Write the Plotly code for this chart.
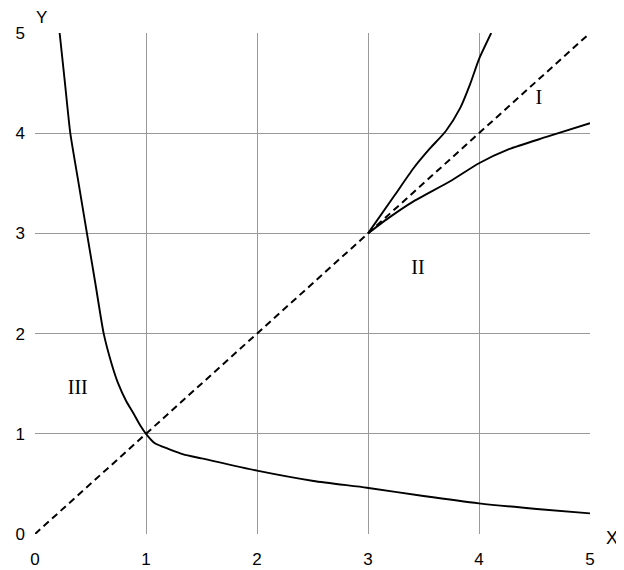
import plotly.graph_objects as go

# Diagonal reference line y = x
diag_x = [0, 5]
diag_y = [0, 5]

# Curve III (decreasing, through (1,1))
c3_x = [0.222, 0.27, 0.318, 0.393, 0.468, 0.544, 0.619, 0.69, 0.75, 0.82, 0.889, 0.95, 1.0,
        1.08, 1.2, 1.336, 1.5, 2.0, 2.51, 2.99, 3.5, 4.0, 4.52, 5.0]
c3_y = [5.0, 4.5, 4.0, 3.5, 3.0, 2.5, 2.0, 1.7, 1.5, 1.33, 1.2, 1.08, 1.0,
        0.905, 0.85, 0.795, 0.755, 0.632, 0.529, 0.462, 0.379, 0.306, 0.25, 0.206]

# Upper branch from (3,3)
up_x = [3.0, 3.24, 3.41, 3.56, 3.70, 3.83, 3.92, 4.0, 4.11]
up_y = [3.0, 3.38, 3.65, 3.85, 4.02, 4.25, 4.49, 4.74, 5.0]

# Lower branch from (3,3)
lo_x = [3.0, 3.18, 3.41, 3.74, 4.0, 4.27, 4.60, 5.0]
lo_y = [3.0, 3.15, 3.32, 3.52, 3.70, 3.84, 3.96, 4.10]

tick_vals = [0, 1, 2, 3, 4, 5]
tick_text = ["0", "1", "2", "3", "4", "5"]

region_labels = ["I", "II", "III"]
region_x = [4.54, 3.45, 0.385]
region_y = [4.34, 2.64, 1.45]

W, H = 616, 562
L, R, T, B = 27, 34, 25, 36
pw = W - L - R
ph = H - T - B

fig = go.Figure()
fig.add_trace(go.Scatter(x=diag_x, y=diag_y, mode="lines",
                         line=dict(color="black", width=2, dash="7px,4.5px")))
for xs, ys in [(c3_x, c3_y), (up_x, up_y), (lo_x, lo_y)]:
    fig.add_trace(go.Scatter(x=xs, y=ys, mode="lines",
                             line=dict(color="black", width=1.9, shape="spline", smoothing=0.6)))
fig.add_trace(go.Scatter(x=region_x, y=region_y, mode="text", text=region_labels,
                         textfont=dict(family="Liberation Serif", size=20, color="black")))

axis_common = dict(range=[0, 5], tickvals=tick_vals, ticktext=tick_text,
                   showgrid=True, gridcolor="#9a9a9a", gridwidth=1,
                   zeroline=False, showline=False, ticks="", automargin=False,
                   tickfont=dict(family="Liberation Sans", size=17, color="black"),
                   fixedrange=True)

def paper_x(px):
    return (px - 8 - L) / pw

def paper_y(py):
    return (H - B - (py - 8)) / ph

fig.update_layout(
    width=W, height=H,
    margin=dict(l=L, r=R, t=T, b=B, autoexpand=False),
    paper_bgcolor="white", plot_bgcolor="white",
    showlegend=False,
    xaxis=dict(**axis_common, ticklabelstandoff=13),
    yaxis=dict(**axis_common, ticklabelstandoff=9),
    annotations=[
        dict(text="X", x=paper_x(612), y=paper_y(538), xref="paper", yref="paper",
             xanchor="center", yanchor="middle", showarrow=False,
             font=dict(family="Liberation Sans", size=18, color="black")),
        dict(text="Y", x=paper_x(41), y=paper_y(17), xref="paper", yref="paper",
             xanchor="center", yanchor="middle", showarrow=False,
             font=dict(family="Liberation Sans", size=17, color="black")),
    ],
)

fig.write_html("out.html")
